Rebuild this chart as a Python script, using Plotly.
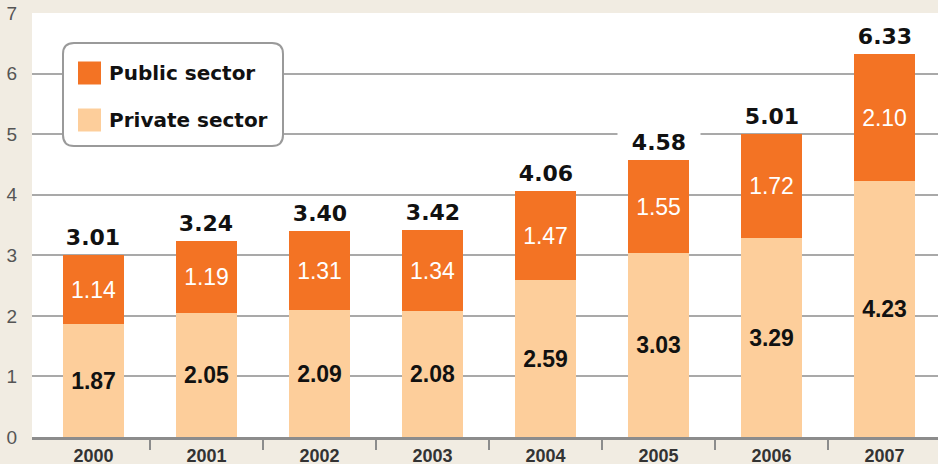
import plotly.graph_objects as go

years = ["2000", "2001", "2002", "2003", "2004", "2005", "2006", "2007"]
private_sector = [1.87, 2.05, 2.09, 2.08, 2.59, 3.03, 3.29, 4.23]
public_sector = [1.14, 1.19, 1.31, 1.34, 1.47, 1.55, 1.72, 2.10]
totals = [3.01, 3.24, 3.40, 3.42, 4.06, 4.58, 5.01, 6.33]
y_ticks = [0, 1, 2, 3, 4, 5, 6, 7]

ORANGE = "#F37324"
PEACH = "#FDCE9B"
BEIGE = "#F1ECE2"
GRID = "#A9A9A9"
AXIS = "#8C8C8C"
NARROW = "Liberation Sans, Arial, sans-serif"
WIDE = "DejaVu Sans, Verdana, sans-serif"

xs = list(range(len(years)))
W, H = 938, 464
ml, mr, mt, mb = 32, 0, 13, 27
pw, ph = W - ml - mr, H - mt - mb

fig = go.Figure()
fig.add_trace(go.Bar(
    x=xs, y=private_sector, name="Private sector", marker_color=PEACH,
    marker_line_width=0, width=0.54,
    text=[f"{v:.2f}" for v in private_sector], textposition="inside",
    insidetextanchor="middle", textangle=0,
    textfont=dict(family=NARROW, size=23, color="#111111", weight="bold"),
    showlegend=False,
))
fig.add_trace(go.Bar(
    x=xs, y=public_sector, name="Public sector", marker_color=ORANGE,
    marker_line_width=0, width=0.54,
    text=[f"{v:.2f}" for v in public_sector], textposition="inside",
    insidetextanchor="middle", textangle=0,
    textfont=dict(family=NARROW, size=23, color="white"),
    showlegend=False,
))

# total labels
for x, t in zip(xs, totals):
    fig.add_annotation(x=x, y=t, xref="x", yref="y", text=f"<b>{t:.2f}</b>",
                       showarrow=False, yanchor="bottom", yshift=2,
                       font=dict(family=WIDE, size=22, color="#111111"),
                       bgcolor="white", width=78, borderpad=2)

# legend box (rounded)
def px_x(p):
    return (p - ml) / pw

def px_y(p):
    return (H - mb - p) / ph

x0, x1, y0, y1, r = 63, 283, 43, 146, 11
path = (f"M {px_x(x0 + r)},{px_y(y0)} L {px_x(x1 - r)},{px_y(y0)} "
        f"Q {px_x(x1)},{px_y(y0)} {px_x(x1)},{px_y(y0 + r)} "
        f"L {px_x(x1)},{px_y(y1 - r)} Q {px_x(x1)},{px_y(y1)} {px_x(x1 - r)},{px_y(y1)} "
        f"L {px_x(x0 + r)},{px_y(y1)} Q {px_x(x0)},{px_y(y1)} {px_x(x0)},{px_y(y1 - r)} "
        f"L {px_x(x0)},{px_y(y0 + r)} Q {px_x(x0)},{px_y(y0)} {px_x(x0 + r)},{px_y(y0)} Z")
fig.add_shape(type="path", path=path, xref="paper", yref="paper",
              fillcolor="white", line=dict(color="#9A9A9A", width=2), layer="above")

legend_items = [("Public sector", ORANGE, 73), ("Private sector", PEACH, 120)]
for label, col, cy in legend_items:
    fig.add_shape(type="rect", xref="paper", yref="paper",
                  x0=px_x(78), x1=px_x(101), y0=px_y(cy - 11.5), y1=px_y(cy + 11.5),
                  fillcolor=col, line_width=0, layer="above")
    fig.add_annotation(x=px_x(107), y=px_y(cy), xref="paper", yref="paper",
                       text=f"<b>{label}</b>", showarrow=False, xanchor="left",
                       yanchor="middle", font=dict(family=WIDE, size=20, color="#111111"))

fig.update_layout(
    width=W, height=H, barmode="stack", bargap=0,
    margin=dict(l=ml, r=mr, t=mt, b=mb, pad=0, autoexpand=False),
    paper_bgcolor=BEIGE, plot_bgcolor="white",
    showlegend=False,
    xaxis=dict(range=[-0.544, 7.473], tickvals=xs, ticktext=years, ticks="",
               automargin=False,
               showgrid=False, zeroline=False, showline=True, linecolor=AXIS,
               linewidth=3, ticklabelstandoff=0,
               tickfont=dict(family=NARROW, size=18, color="#333333", weight="bold"),
               minor=dict(tickvals=[i + 0.5 for i in xs[:-1]], ticks="outside",
                          ticklen=10, tickwidth=2, tickcolor=AXIS, showgrid=False)),
    yaxis=dict(range=[0, 7], tickvals=y_ticks, showgrid=True, gridcolor=GRID,
               gridwidth=2, zeroline=False, showline=False, ticks="",
               automargin=False, ticklabelstandoff=14,
               tickfont=dict(family=NARROW, size=19, color="#555555")),
)

fig.write_html("out.html", config={"displayModeBar": False},
               post_script="document.body.style.margin='0';"
                           "document.body.style.background='" + BEIGE + "';")
